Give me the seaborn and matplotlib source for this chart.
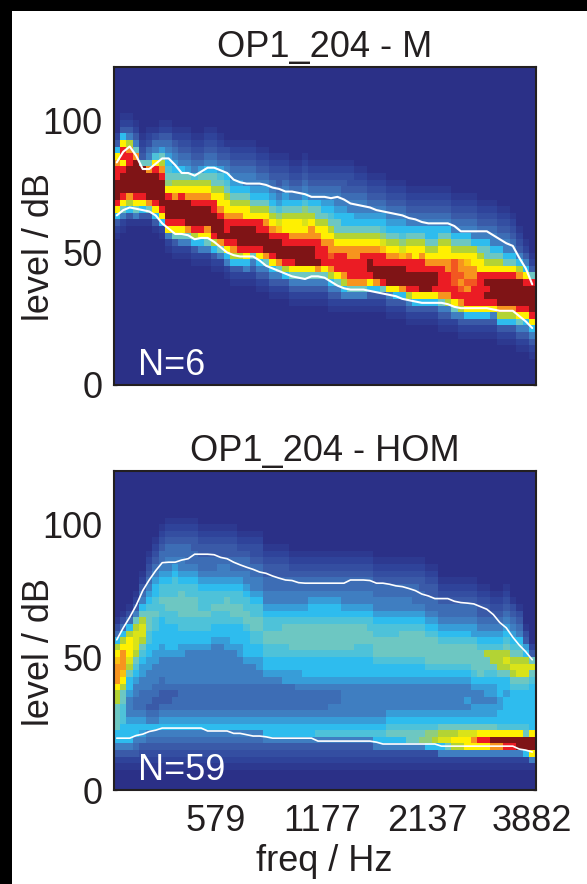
"""Level distribution over frequency for OP1_204, M and HOM panels."""

import numpy as np
import matplotlib
matplotlib.use("Agg")
import matplotlib.pyplot as plt
import seaborn as sns
from matplotlib.colors import LinearSegmentedColormap
from matplotlib.patches import Rectangle

FREQ_TICK_POS = [15.8, 32.1, 48.3, 64.5]
FREQ_TICK_LABELS = ["579", "1177", "2137", "3882"]
LEVEL_TICKS = [0, 50, 100]
LEVEL_STEP = 2.5
N_ROWS = 48

# cell shades (letters are in-between shades)
SHADES = {"a": 10, "b": 2.5, "c": 3.5, "d": 4.5, "e": 0.5, "f": 1.5, "g": 6.5, "h": 5.5, "i": 7.5, "j": 8.5}
SHADE_COLORS = ["#2B3087", "#2F439A", "#3A5AA8", "#3F7FC2", "#2EBCEE", "#6CC7C5",
                "#B3D334", "#FFF200", "#F7941E", "#ED1C24", "#7F1416"]

# M panel: first coloured row of each column, then the cells going upward
M_START = [22, 23, 24, 24, 24, 24, 23, 22, 20, 19, 19, 19, 18, 18, 18, 17, 17, 16, 15, 15, 15, 15,
           14, 14, 13, 13, 13, 12, 12, 12, 12, 12, 12, 11, 11, 11, 11, 11, 11, 11, 11, 11, 10, 10,
           10, 9, 9, 9, 9, 9, 8, 8, 8, 7, 7, 7, 7, 7, 7, 6, 6, 6, 5, 5, 4]
M_CELLS = [
    "e12479aaa9987421", "e13579aaa97997421e", "e2468aaaa9986321e", "e3579aaaaa85321e", "e2479aaaa52f1e",
    "e258aaaa853bf1e", "e2479aaaa97d3bfe", "e1479aaaa9865cb21e", "e1379aaa97h5d4c3b21e", "e12579aaa87654c3b21e",
    "e13579aaa976543b2f1e", "e1358aaaa8765c3b2f1e", "e12469aaa9876d3b2f1e", "e13479aaa98765cb2f1e", "e13578aaa9876543b2f1e",
    "e12469aaa99765543b2f1e", "e1358aaa987765dcb2f1e", "e13479a9987765d43b2fe", "e124689aa987654c3b2f1e", "e12469aaa987654c3b2f1e",
    "e13479aaa97765433b2f1e", "e12359aaa97654c33b2f1e", "e123479aa997654c3b2f1e", "e12358aaa987654c3b2f1e", "e123479aa987654c3b2f1e",
    "e12358aaa9ighdc3b22f1e", "e12469aa9977654c3b2f1e", "e123579aa98776543b2f1e", "e12357aaa98776543b2f1e", "e12357aaa987g6hdc3b2f1e",
    "e12357aaa98876543b2f1e", "e12358a9998765543b2f1e", "e12357999877654c3b2f1e", "e1234689j88765d4c3b2f1e", "e12357999876554c33b2f1e",
    "e13468999876544c3b22f1e", "e1358999887654433b2ff1e", "e1358999887654c33b2f1e", "e1358999987654c33b2f1e", "e12479aa987654c3b2f1e",
    "e1248aa9987654c3b2f1e", "e1259aa99ighd4c3b2f1e", "e1237aaa987654c3b2f1e", "e1247aaa987654c3b2f1e", "e1248aaa9ighd4c3b2f1e",
    "e12369aa99876543b2f1e", "e12479aa99776543b2f1e", "e1247aaa99876543b2f1e", "e1247aaa98765443b2f1e", "e12479aa98765443b2f1e",
    "e1235899998776543b2f1e", "e1236899988776543b2f1e", "e135799jjjj76543b2f1e", "e123689j8j8876543b2f1e", "e1247998j88i76543b2f1e",
    "e1247999j88776433b2f1e", "e124799999776543b2f1e", "e12479a9a9765543b2f1e", "e12379aaa9765433b2f1e", "e12468aaaa976543b2f1e",
    "e12468aaaa975433b2f1e", "e12468aaaa97543b2f1e", "e123579aaaa86432f1e", "e123479aaa974321e", "e123479aaaa9521e",
]
M_UPPER = [84, 88, 90, 86.5, 81.5, 81.5, 83.5, 85.5, 85.5, 83, 80, 80, 79, 80.5, 82, 82, 81, 80, 77.5, 76.5,
           76, 76, 76, 75.5, 74.5, 74, 73, 73, 72.5, 72, 71, 71, 71, 70.5, 71, 70, 68.5, 68, 67.5, 67,
           66, 65.5, 65, 64.5, 64, 63, 62.5, 61.5, 61, 61, 61, 61, 60, 58, 58, 58, 58, 58, 56.5, 55,
           53.5, 52.5, 48, 44, 38]
M_LOWER = [64, 66, 67, 66.5, 66, 65.5, 64, 61, 59, 57, 57, 56.5, 55, 55.5, 55.5, 54, 52, 50, 49, 48.5,
           48.5, 48.5, 47, 45, 44, 43, 42, 41, 40.5, 40, 41, 41, 40.5, 39, 37.5, 36.5, 36, 36, 36, 35.5,
           35, 34.5, 34, 33.5, 32.5, 32, 31.5, 31, 31, 31, 31, 30.5, 29.5, 29, 29, 29, 29, 29, 28.5, 28,
           28, 28, 26, 24, 21.5]

# HOM panel: every column starts at the same row
HOM_START = 3
HOM_CELLS = [
    "e123445555667888i764bfe", "e123444ddd5567i888764bfe", "e123444c333c4456g77764bfe", "e12b344c3bb33c4d56ggg65321e",
    "e1f23c4c3bbb33cc4d56gg6543b21e", "e1f2b343b2bb333cc44dd555d4c3b2f1e", "e1f2b343b22bb333cc444dd5dd44c3b2f1e",
    "e1f2b34c3b22bb333cc4444dd5dd4c3bb2f1e", "e1f2b34c3b22b3333c4444dd55dd4c33bb2f1e", "e1f2b34c3bb2b3333c4444dd55ddd4c3bb2f1e",
    "e1f2b34c3bbbb3333cc44dd5555d4c33bb2f1e", "e1f2b34c3bbbb33333c44dd555dd4c3bbb2f1e", "e1f2b34c3bbbb33333c44dd555dd4c3bb22f1e",
    "e1f2b34c3bbbb33333c44dd5ddd4c3bb22f1e", "e1f2b34c3bbbb33333c44dd5ddd4c3bb22f1e", "e1f2b34c3bbbb333333c44dd5dd4c3bb22f1e",
    "e1f2b34c3bbbb333333c44dd5dd4c33b22f1e", "e1f2b34c3bbbb33333cc44dd55d4c33b22f1e", "e1f2b34c3bbbb33333c444d55dd4c3bb22f1e",
    "e1f2b34c3bbbb3333cc444d55dd4c3bb2f1e", "e1f2b34c3bbbb333c4444d55dd4c33bb2f1e", "e1f2b34c3bbbb333c44dd55dd4c33bb2ff1e",
    "e1f2b34c3bbbb33cc44dd55dd4c33bb2ff1e", "e1f2344c3bbbb3c44dd55dd4c33bb22f1e", "e1f2344c3bbbb3c44dd55dd4c33bb22f1e",
    "e1f2344c3bbbb3c44dd55dd4c33bb22f1e", "e1f2344c3bbbbcc44dd555d4c33bb22f1e", "e1f2344c3bbbbcc44d5555d4c33bb2f1e",
    "e1f2344c3bbb3cc44d5555d4c33bb2f1e", "e1f2344c3bbb3c444d5555d4c33bb2f1e", "e1f2344c3bbb3c444d5555d44c3bb2f1e",
    "e1f23d4c3bbb3c444d5555d44c3bb2f1e", "e1f23d4c3bbb3c444d5555d44c3bb2f1e", "e1f23d4c33bb3c444d5555d44c3bb2f1e",
    "e1f23d4c33bb3c444d5555d44c3bb2f1e", "e1f23d4c33333c444d5555d4c33bb2f1e", "e1f23d4c33333c444d5555d4c33bb2f1e",
    "e1f23d4c33333c444dd555d4c33bb2f1e", "e1f23d4c33333c444dd555d4c33bb2f1e", "e1f23d4c33333c444dd55dd4c33bb2f1e",
    "e1f34d4c33333c44d555dd4c33bb2f1e", "e1f34d4c33333c44d555dd4c33bb2f1e", "e1f345d4c3333c44d555dd4c33bb2f1e",
    "e1f345d4c3333c44d555dd4c33bb2f1e", "e1f345d4c3333c44d5555d4c33bb2f1e", "e1f355d4c3333c44d5555d4c33bb2f1e",
    "e1f355d4c3333c44d5555d4c3bbb2f1e", "e1f3h5d4c3333c44d5555d4c3bb22f1e", "e1f4hhd4c3333c4d5555d4c3bb22f1e",
    "e1f46hd4c3333c4d5555d4c3bb22f1e", "e134g654c3333c4d555d4c3bb2f1e", "e135g654c3333c4d555d4c3bb2f1e",
    "e1367654c3333c4d555d4c3bb2f1e", "e1367g54c3333c4d555d4c3bb2f1e", "e1377g54c3c33c4d555d4c3bb2f1e",
    "e1378g54cc33c4d5555dcc3bb2f1e", "e1379754cc33c45555d4c3b22f1e", "e1379754cc3cc4d556d4c3b22f1e",
    "e138a754cc3cc4d566d4c3b2f1e", "e138a7d44cc4445666d4c3b2f1e", "e139a7d4444c4456g65d4c3b2f1e",
    "e139a7d44444d56g65d4c3b2fe", "e13aa7d44444d5gg65d43b2fe", "e14aa5d44444d5gg64c2fe", "e37aa74444444d5g521",
]
HOM_UPPER = [56.5, 61, 65, 69.5, 75, 79, 82.5, 85.5, 85.7, 85.7, 86.5, 87, 88.7, 88.7, 88.7, 88.5, 87.5, 87, 85.7, 84.7,
             83.8, 83, 82, 81.5, 80.5, 79.7, 79, 78.8, 78, 77.8, 77.8, 77.8, 77.8, 77.8, 77.8, 77.8, 79, 79, 79, 78.8,
             77.8, 77.8, 77.4, 76.8, 76.5, 75.8, 75, 73.7, 73, 72, 72, 72, 71, 70.5, 70.3, 70, 69, 68, 66, 63,
             61, 57.5, 54.5, 52, 49]
HOM_LOWER = [19.5, 19.5, 19.5, 20.5, 21, 22, 22.5, 23.3, 23.3, 23.3, 23.3, 23.3, 23.3, 23.3, 22.2, 22.2, 22.2, 22.2, 21.3, 21.3,
             20.8, 20.3, 20.3, 20, 19.5, 19.5, 19.5, 19.5, 19.5, 19.5, 19.5, 18.4, 18.4, 18.4, 18.4, 18.4, 18.4, 18.4, 18.4, 18.4,
             18, 17.3, 17.3, 17.3, 17.3, 17.3, 17.3, 17.3, 17.3, 17.3, 16.5, 16.5, 16.5, 16.5, 16.5, 16.5, 16.5, 16.5, 16.5, 16.5,
             16.5, 16.5, 15.4, 15, 14.3]

TEXT_COLOR = "#231F20"
W, H = 587, 884


def shade_matrix(starts, cells):
    mat = np.zeros((N_ROWS, len(cells)))
    for col, (start, column) in enumerate(zip(starts, cells)):
        for k, ch in enumerate(column):
            mat[start + k, col] = SHADES[ch] if ch in SHADES else int(ch)
    return mat


def draw_panel(ax, mat, upper, lower, title, count, line_width):
    sns.heatmap(mat, ax=ax, cmap=cmap, vmin=0, vmax=10, cbar=False,
                xticklabels=False, yticklabels=False)
    ax.set_ylim(0, N_ROWS)
    cols = np.arange(mat.shape[1]) + 0.5
    ax.plot(cols, np.array(upper) / LEVEL_STEP, color="white", lw=line_width)
    ax.plot(cols, np.array(lower) / LEVEL_STEP, color="white", lw=line_width)

    ax.set_yticks([v / LEVEL_STEP for v in LEVEL_TICKS])
    ax.set_yticklabels([str(v) for v in LEVEL_TICKS])
    ax.set_xticks(FREQ_TICK_POS)
    ax.tick_params(direction="in", length=2.5, width=0.9, color=TEXT_COLOR, labelcolor=TEXT_COLOR,
                   top=True, right=True, bottom=True, left=True, labelsize=26, pad=8)
    ax.tick_params(axis="x", pad=10)
    for spine in ax.spines.values():
        spine.set_visible(True)
        spine.set_color(TEXT_COLOR)
        spine.set_linewidth(1.5)
    ax.set_title(title, fontsize=26, color=TEXT_COLOR, pad=7)
    ax.set_ylabel("level / dB", fontsize=26, color=TEXT_COLOR)
    ax.yaxis.set_label_coords(-0.134, 0.434)
    ax.text(0.058, 0.06, count, transform=ax.transAxes, color="white", fontsize=26, va="center")


def axes_px(fig, left, top, right, bottom):
    return fig.add_axes([left / W, 1 - bottom / H, (right - left) / W, (bottom - top) / H])


sns.set_style("white")
plt.rcParams["font.family"] = ["Liberation Sans", "DejaVu Sans"]
cmap = LinearSegmentedColormap.from_list("level_jet", SHADE_COLORS, N=256)

fig = plt.figure(figsize=(W / 100, H / 100), dpi=100, facecolor="black")
fig.add_artist(Rectangle((12 / W, 0), 1, 1 - 11 / H, transform=fig.transFigure,
                         facecolor="white", edgecolor="none", zorder=-1))

ax_m = axes_px(fig, 113.5, 67, 535.5, 385)
draw_panel(ax_m, shade_matrix(M_START, M_CELLS), M_UPPER, M_LOWER, "OP1_204 - M", "N=6", 1.5)
ax_m.set_xticklabels([])

ax_hom = axes_px(fig, 113.5, 471, 535.5, 790)
draw_panel(ax_hom, shade_matrix([HOM_START] * len(HOM_CELLS), HOM_CELLS), HOM_UPPER, HOM_LOWER,
           "OP1_204 - HOM", "N=59", 1.2)
ax_hom.set_xticklabels(FREQ_TICK_LABELS)
ax_hom.set_xlabel("freq / Hz", fontsize=26, color=TEXT_COLOR, labelpad=4)

fig.savefig("out.png", dpi=100, facecolor=fig.get_facecolor())
